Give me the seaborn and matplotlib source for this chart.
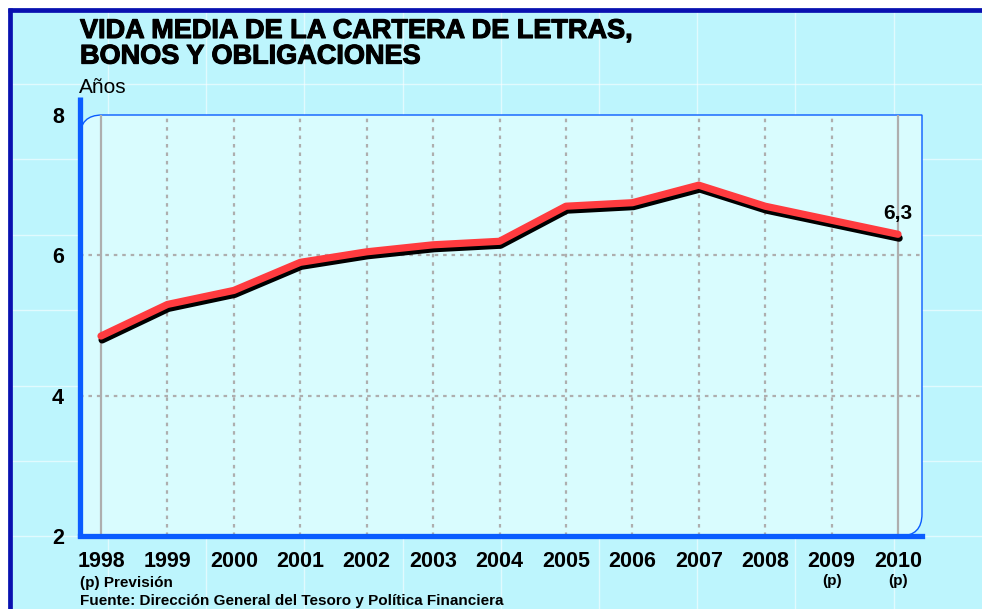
"""
Vida media de la cartera de letras, bonos y obligaciones (1998-2010)
"""

import numpy as np
import matplotlib
matplotlib.use("Agg")
import matplotlib.pyplot as plt
import matplotlib.patheffects as pe
from matplotlib.lines import Line2D
from matplotlib.patches import Rectangle, PathPatch
from matplotlib.path import Path
import matplotlib.transforms as mtransforms
import seaborn as sns

# ============================================================================
# DATA
# ============================================================================

years = [1998, 1999, 2000, 2001, 2002, 2003, 2004, 2005, 2006, 2007, 2008, 2009, 2010]
vida_media = [4.85, 5.3, 5.5, 5.9, 6.05, 6.15, 6.2, 6.7, 6.75, 7.0, 6.7, 6.5, 6.3]
year_labels = [str(y) for y in years]
prevision_years = [2009, 2010]
y_ticks = [2, 4, 6, 8]

title = "VIDA MEDIA DE LA CARTERA DE LETRAS,\nBONOS Y OBLIGACIONES"
unit_label = "Años"
note = "(p) Previsión"
source = "Fuente: Dirección General del Tesoro y Política Financiera"

# ============================================================================
# STYLE
# ============================================================================

sns.set_style("white")
plt.rcParams['font.family'] = ['Liberation Sans', 'DejaVu Sans']
plt.rcParams['text.color'] = 'black'
plt.rcParams['xtick.labelcolor'] = 'black'
plt.rcParams['ytick.labelcolor'] = 'black'

W, H = 982, 609
BG = '#BDF5FD'
PANEL = '#D9FCFE'
AXIS_BLUE = '#0A5CFF'
BORDER = '#0A10B0'
RED = '#FF3B3F'
GRID = '#AEAEAE'


def fx(px):
    return px / W


def fy(px):
    # pixel from top -> figure fraction
    return 1 - px / H


fig = plt.figure(figsize=(W / 100, H / 100), dpi=100)
fig.patch.set_facecolor('white')

# outer background with faint white grid pattern
fig.add_artist(Rectangle((fx(8), 0), 1, fy(8), transform=fig.transFigure,
                         facecolor=BG, edgecolor='none', zorder=-10))
for px in np.arange(108, W, 98.2):
    fig.add_artist(Line2D([fx(px)] * 2, [0, fy(12)], transform=fig.transFigure,
                          color='white', lw=1.0, alpha=0.55, zorder=-9))
for py in np.arange(84, H, 75.4):
    fig.add_artist(Line2D([fx(12), 1], [fy(py)] * 2, transform=fig.transFigure,
                          color='white', lw=1.0, alpha=0.55, zorder=-9))

# dark border top and left
fig.add_artist(Line2D([fx(8), 1], [fy(9.8)] * 2, transform=fig.transFigure,
                      color=BORDER, lw=3.4, solid_capstyle='butt', zorder=-8))
fig.add_artist(Line2D([fx(9.8)] * 2, [0, fy(8)], transform=fig.transFigure,
                      color=BORDER, lw=3.4, solid_capstyle='butt', zorder=-8))

# plot panel with rounded top-left and bottom-right corners
x0, x1 = fx(80), fx(922)
y0, y1 = fy(536), fy(115)
rx, ry = fx(22), 22 / H
verts = [(x0 + rx, y1), (x1, y1), (x1, y0 + ry), (x1, y0), (x1 - rx, y0),
         (x0, y0), (x0, y1 - ry), (x0, y1), (x0 + rx, y1)]
codes = [Path.MOVETO, Path.LINETO, Path.LINETO, Path.CURVE3, Path.CURVE3,
         Path.LINETO, Path.LINETO, Path.CURVE3, Path.CURVE3]
fig.add_artist(PathPatch(Path(verts, codes), transform=fig.transFigure,
                         facecolor=PANEL, edgecolor=AXIS_BLUE, lw=1.0, zorder=-5))

# ============================================================================
# AXES
# ============================================================================

ax = fig.add_axes([x0, y0, x1 - x0, y1 - y0])
ax.set_facecolor('none')

step = (898 - 101) / 12
ax.set_xlim(1998 - 21 / step, 2010 + 24 / step)
ax.set_ylim(2, 8)

# reference lines
for y in [4, 6]:
    ax.axhline(y, color=GRID, lw=1.6, ls=(0, (1.6, 2.2)), zorder=1)
for yr in years[1:-1]:
    ax.axvline(yr, color=GRID, lw=1.6, ls=(0, (1.6, 2.2)), zorder=1)
for yr in [years[0], years[-1]]:
    ax.axvline(yr, color=GRID, lw=1.6, zorder=1)

# series with black drop shadow
sns.lineplot(x=years, y=vida_media, ax=ax, color=RED, lw=5.2,
             solid_capstyle='round', solid_joinstyle='round', zorder=3,
             path_effects=[pe.SimpleLineShadow(offset=(0.8, -2.8), shadow_color='black', alpha=1.0),
                           pe.Normal()])
ax.set_xlabel('')
ax.set_ylabel('')

# axes lines
for side in ['top', 'right', 'left']:
    ax.spines[side].set_visible(False)
ax.spines['bottom'].set_color(AXIS_BLUE)
ax.spines['bottom'].set_linewidth(3.8)
ax.spines['bottom'].set_zorder(5)
ax.plot([0, 0], [-0.004, 1.043], transform=ax.transAxes, color=AXIS_BLUE, lw=3.8,
        solid_capstyle='butt', clip_on=False, zorder=5)

ax.set_xticks(years)
ax.set_xticklabels(year_labels)
ax.set_yticks(y_ticks)
ax.set_yticklabels([str(v) for v in y_ticks])
ax.tick_params(axis='both', length=2.5, width=3, color=AXIS_BLUE, labelsize=15.5,
               direction='out')
ax.tick_params(axis='x', pad=8)
ax.tick_params(axis='y', pad=9)
for lab in ax.get_xticklabels() + ax.get_yticklabels():
    lab.set_fontweight('bold')

# forecast markers under the last years
p_trans = mtransforms.blended_transform_factory(ax.transData, fig.transFigure)
for yr in prevision_years:
    ax.text(yr, fy(574), '(p)', transform=p_trans,
            ha='center', va='top', fontsize=11, fontweight='bold')

# last value label
ax.annotate('6,3', xy=(years[-1], vida_media[-1]), xytext=(0, 11), textcoords='offset points',
            ha='center', va='baseline', fontsize=15, fontweight='bold')

# ============================================================================
# TEXTS
# ============================================================================

fig.text(fx(80), fy(18), title, ha='left', va='top', fontsize=19.5, fontweight='bold',
         linespacing=0.98,
         path_effects=[pe.withStroke(linewidth=0.8, foreground='black')])
fig.text(fx(79), fy(93), unit_label, ha='left', va='baseline', fontsize=15)
fig.text(fx(80), fy(587), note, ha='left', va='baseline', fontsize=11, fontweight='bold')
fig.text(fx(80), fy(605), source, ha='left', va='baseline', fontsize=11, fontweight='bold')

plt.savefig('out.png', dpi=100, facecolor=fig.get_facecolor())
